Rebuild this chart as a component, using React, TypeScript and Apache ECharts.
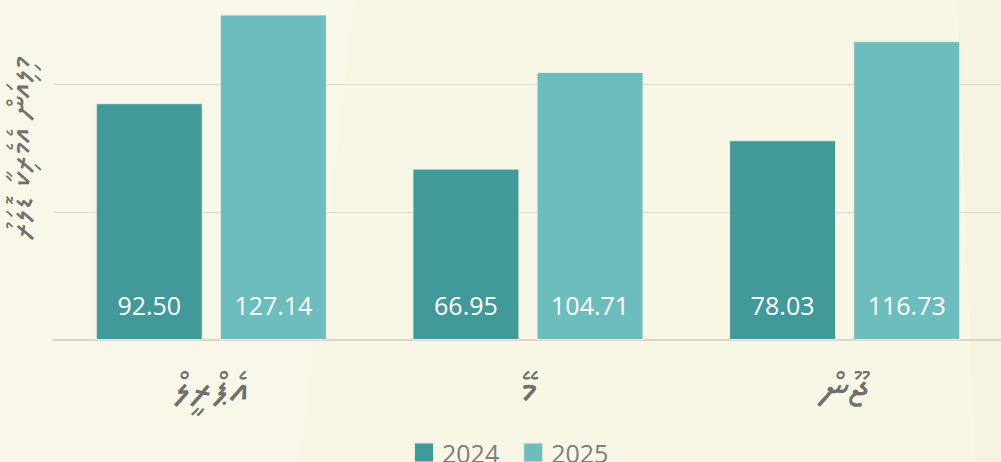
import React, { useEffect, useRef } from "react";
import * as echarts from "echarts";

const categories = ["އެޕްރީލް", "މޭ", "ޖޫން"];
const seriesNames = ["2024", "2025"];
const values2024 = [92.5, 66.95, 78.03];
const values2025 = [127.14, 104.71, 116.73];
const yAxisName = "މިލިއަން އެމެރިކާ ޑޮލަރު";

const W = 1001;
const OFF = 44; // chart drawn taller, shifted up so the 150 line sits off-page
const H = 462 + OFF;

export default function App() {
  const ref = useRef<HTMLDivElement>(null);
  useEffect(() => {
    if (!ref.current) return;
    const chart = echarts.init(ref.current, undefined, { renderer: "svg", width: W, height: H });
    const thaanaFont = "'Noto Sans Thaana', 'MV Boli', 'DejaVu Sans', 'Noto Sans', sans-serif";
    const labelStyle = {
      show: true,
      position: "insideBottom" as const,
      distance: 23,
      color: "#ffffff",
      fontSize: 25,
      fontFamily: "'Open Sans', sans-serif",
      formatter: (p: any) => Number(p.value).toFixed(2),
    };
    chart.setOption({
      animation: false,
      backgroundColor: "#f8f6e5",
      graphic: [
        { type: "polygon", silent: true, z: -10, shape: { points: [[0, 0], [360, 0], [300, H], [0, H]] }, style: { fill: "#f9f7e8" } },
        { type: "polygon", silent: true, z: -10, shape: { points: [[955, 0], [1001, 0], [1001, H], [975, H]] }, style: { fill: "#f6f3e0" } },
      ],
      grid: { left: 53, right: -2, top: 0, bottom: 122, containLabel: false, outerBoundsMode: "none" },
      legend: {
        top: 435 + OFF,
        left: 408,
        itemWidth: 20,
        itemHeight: 20,
        itemGap: 23,
        icon: "rect",
        textStyle: { fontSize: 25, color: "#7e7e7e", fontFamily: "'Open Sans', sans-serif", padding: [0, 0, 0, 3] },
        data: seriesNames,
      },
      xAxis: {
        type: "category",
        data: categories,
        axisTick: { show: false },
        axisLine: { show: true, lineStyle: { color: "#d8d5cf", width: 2 } },
        axisLabel: { margin: 27, fontSize: 44, color: "#6f6f6f", fontFamily: thaanaFont },
      },
      yAxis: {
        type: "value",
        min: 0,
        max: 150,
        interval: 50,
        name: yAxisName,
        nameLocation: "middle",
        nameGap: 16,
        nameTextStyle: { fontSize: 34, color: "#707070", fontFamily: thaanaFont },
        axisLabel: { show: false },
        axisLine: { show: false },
        axisTick: { show: false },
        splitLine: { show: true, lineStyle: { color: "#dcd9d3", width: 1 } },
      },
      series: [
        {
          name: seriesNames[0],
          type: "bar",
          data: values2024,
          barWidth: 107,
          barGap: "16%",
          itemStyle: { color: "#42999a", borderColor: "#eef0e0", borderWidth: 1 },
          label: labelStyle,
        },
        {
          name: seriesNames[1],
          type: "bar",
          data: values2025,
          barWidth: 107,
          barGap: "16%",
          itemStyle: { color: "#6ebdbe", borderColor: "#eef0e0", borderWidth: 1 },
          label: labelStyle,
        },
      ],
    });
    return () => chart.dispose();
  }, []);
  return (
    <div style={{ position: "absolute", left: 0, top: 0, width: W, height: 462, overflow: "hidden" }}>
      <div ref={ref} style={{ position: "absolute", left: 0, top: -OFF, width: W, height: H }} />
    </div>
  );
}
